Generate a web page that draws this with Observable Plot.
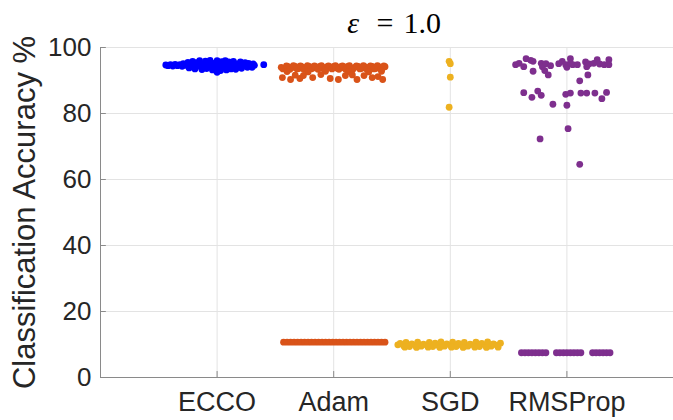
<!DOCTYPE html>
<html>
<head>
<meta charset="utf-8">
<script src="https://cdn.jsdelivr.net/npm/d3@7"></script>
<script src="https://cdn.jsdelivr.net/npm/@observablehq/plot@0.6"></script>
<style>
  html, body { margin: 0; padding: 0; background: #ffffff; }
</style>
</head>
<body>
<div id="chart"></div>
<script>
// ---- data ----
const categories = ["ECCO", "Adam", "SGD", "RMSProp"];
const seriesColors = ["#0000ff", "#d95319", "#edb120", "#7e2f8e"];
const yTicks = [0, 20, 40, 60, 80, 100];
const titleSymbol = "ε";
const titleValue = "=\u20041.0";
const yLabel = "Classification Accuracy %";

// [horizontal swarm offset (category units), accuracy %]
const eccoPoints = [
  [-0.44,94.7],[-0.42,94.5],[-0.40,94.8],[-0.38,94.4],[-0.36,94.9],[-0.34,94.5],[-0.32,94.8],[-0.30,94.3],[-0.29,95.1],[-0.27,94.6],
  [-0.25,95.5],[-0.24,93.8],[-0.22,94.8],[-0.21,95.8],[-0.19,93.5],[-0.18,95.4],[-0.16,94.4],[-0.15,96.0],[-0.13,93.3],[-0.12,94.9],
  [-0.10,95.9],[-0.09,93.6],[-0.07,94.6],[-0.06,96.1],[-0.04,93.2],[-0.03,95.2],[-0.02,94.3],[0.00,92.5],[0.00,96.0],[0.01,93.3],
  [0.02,94.8],[0.03,93.0],[0.04,95.7],[0.05,94.1],[0.07,96.0],[0.08,93.2],[0.09,94.7],[0.10,95.6],[0.12,93.5],[0.13,94.4],
  [0.14,95.8],[0.16,93.4],[0.17,95.0],[0.18,94.2],[0.20,95.6],[0.21,93.7],[0.23,94.8],[0.24,95.4],[0.26,94.0],[0.27,95.2],
  [0.29,94.5],[0.30,94.0],[0.31,95.0],[0.32,94.6],[0.40,94.8],
  [-0.20,94.6],[-0.14,94.9],[-0.08,94.2],[-0.01,94.9],[0.06,94.9],[0.11,94.4],[0.19,94.9]
];
const adamPoints = [
  [-0.45,94.0],[-0.42,93.7],[-0.39,94.2],[-0.36,93.9],[-0.33,94.3],[-0.30,93.6],[-0.27,94.1],[-0.24,93.8],[-0.21,94.3],[-0.18,93.7],
  [-0.15,94.0],[-0.12,94.3],[-0.09,93.6],[-0.06,94.1],[-0.03,93.9],[0.00,94.3],[0.03,93.7],[0.06,94.2],[0.09,93.8],[0.12,94.3],
  [0.15,93.6],[0.18,94.0],[0.21,94.3],[0.24,93.7],[0.27,94.1],[0.30,93.9],[0.33,94.3],[0.36,93.6],[0.39,94.1],[0.42,93.8],[0.44,94.2],
  [-0.435,93.5],[-0.405,94.4],[-0.375,93.4],[-0.345,94.5],[-0.315,93.5],[-0.285,94.4],[-0.255,93.3],[-0.225,94.5],[-0.195,93.5],
  [-0.165,94.4],[-0.135,93.4],[-0.105,94.5],[-0.075,93.3],[-0.045,94.4],[-0.015,93.5],[0.015,94.5],[0.045,93.4],[0.075,94.4],
  [0.105,93.3],[0.135,94.5],[0.165,93.4],[0.195,94.4],[0.225,93.5],[0.255,94.5],[0.285,93.3],[0.315,94.4],[0.345,93.5],[0.375,94.5],
  [0.405,93.4],[0.43,94.4],
  [-0.40,92.7],[-0.22,92.6],[-0.07,92.8],[0.13,92.7],[0.30,92.6],[0.41,92.8],
  [-0.44,90.9],[-0.37,90.3],[-0.29,90.6],[-0.26,91.5],[-0.18,90.9],[-0.11,91.8],[-0.03,90.6],[0.04,90.3],[0.10,91.5],[0.20,90.3],
  [0.26,91.5],[0.33,90.9],[0.38,91.2],[0.42,90.3],[-0.33,91.6],[0.16,91.7],
  [-0.43,10.7],[-0.40,10.7],[-0.37,10.7],[-0.34,10.7],[-0.31,10.7],[-0.28,10.7],[-0.25,10.7],[-0.22,10.7],[-0.19,10.7],[-0.16,10.7],
  [-0.13,10.7],[-0.10,10.7],[-0.07,10.7],[-0.04,10.7],[-0.01,10.7],[0.02,10.7],[0.05,10.7],[0.08,10.7],[0.11,10.7],[0.14,10.7],
  [0.17,10.7],[0.20,10.7],[0.23,10.7],[0.26,10.7],[0.29,10.7],[0.32,10.7],[0.35,10.7],[0.38,10.7],[0.41,10.7],[0.44,10.7]
];
const sgdPoints = [
  [-0.01,95.8],[0.00,95.1],[0.00,91.0],[-0.01,81.9],
  [-0.45,9.9],[-0.43,10.3],[-0.40,9.6],[-0.38,10.6],[-0.35,9.4],[-0.33,10.2],[-0.30,9.7],[-0.28,10.7],[-0.25,9.5],[-0.23,10.1],
  [-0.20,9.8],[-0.18,10.6],[-0.15,9.4],[-0.13,10.4],[-0.10,9.7],[-0.08,10.8],[-0.05,9.5],[-0.03,10.2],[0.00,9.8],[0.02,10.7],
  [0.05,9.4],[0.07,10.3],[0.10,9.7],[0.12,10.6],[0.15,9.5],[0.17,10.1],[0.20,9.9],[0.22,10.7],[0.25,9.4],[0.27,10.3],
  [0.30,9.7],[0.32,10.8],[0.35,9.5],[0.37,10.2],[0.40,9.8],[0.43,10.4],
  [-0.39,9.2],[-0.29,9.1],[-0.19,9.2],[-0.09,9.1],[0.01,9.2],[0.11,9.1],[0.21,9.2],[0.31,9.1],[0.41,9.2]
];
const rmspropPoints = [
  [-0.44,94.8],[-0.41,95.2],[-0.37,94.2],[-0.35,96.6],[-0.31,96.1],[-0.29,95.8],[-0.29,92.8],[-0.22,95.2],[-0.21,94.2],[-0.19,93.0],
  [-0.18,95.1],[-0.16,91.7],[-0.14,94.5],[-0.07,95.1],[-0.04,95.8],[-0.01,94.8],[0.00,94.0],[0.03,96.6],[0.03,95.2],[0.05,94.8],
  [0.09,94.8],[0.11,89.9],[0.16,95.6],[0.17,94.2],[0.18,91.7],[0.19,95.0],[0.23,95.2],[0.26,96.3],[0.28,95.0],[0.32,94.8],
  [0.36,96.3],[0.36,94.8],
  [-0.37,86.3],[-0.30,84.9],[-0.25,86.8],[-0.22,85.5],[-0.12,82.8],[-0.01,85.8],[0.00,82.5],[0.03,86.2],[0.12,86.2],[0.17,86.2],
  [0.24,86.2],[0.30,84.5],[0.34,86.4],
  [0.01,75.4],[-0.23,72.3],[0.11,64.6],
  [-0.39,7.5],[-0.36,7.5],[-0.33,7.5],[-0.30,7.5],[-0.27,7.5],[-0.24,7.5],[-0.21,7.5],[-0.18,7.5],
  [-0.09,7.5],[-0.06,7.5],[-0.03,7.5],[0.00,7.5],[0.03,7.5],[0.06,7.5],[0.09,7.5],[0.12,7.5],
  [0.22,7.5],[0.25,7.5],[0.28,7.5],[0.31,7.5],[0.34,7.5],[0.37,7.5]
];

// ---- build table ----
const groups = [eccoPoints, adamPoints, sgdPoints, rmspropPoints];
const rows = [];
groups.forEach((pts, i) => {
  pts.forEach(([j, acc]) => rows.push({opt: categories[i], pos: i + 1 + j, acc}));
});
const catPos = categories.map((_, i) => i + 1);

const chart = Plot.plot({
  width: 673,
  height: 420,
  marginLeft: 100,
  marginRight: 0,
  marginTop: 47,
  marginBottom: 43,
  style: {fontFamily: "'Liberation Sans', Arial, Helvetica, sans-serif", background: "#ffffff", color: "#262626"},
  x: {domain: [0, 5], range: [100, 683]},
  y: {domain: [0, 100]},
  color: {domain: categories, range: seriesColors},
  marks: [
    Plot.gridY(yTicks, {stroke: "#e3e3e3", strokeOpacity: 1}),
    Plot.gridX(catPos, {stroke: "#e3e3e3", strokeOpacity: 1}),
    Plot.ruleX([0], {stroke: "#8a8a8a"}),
    Plot.ruleY([0], {stroke: "#8a8a8a"}),
    Plot.ruleY(yTicks, {x1: 0, x2: 0.05, stroke: "#8a8a8a"}),
    Plot.ruleX(catPos, {y1: 0, y2: 1.8, stroke: "#8a8a8a"}),
    Plot.axisY(yTicks, {tickSize: 0, tickPadding: 9, fontSize: 26, label: null, fill: "#262626"}),
    Plot.axisX(catPos, {tickSize: 0, tickPadding: 14, fontSize: 27, label: null, fill: "#262626",
      tickFormat: d => categories[d - 1]}),
    Plot.dot(rows, {x: "pos", y: "acc", fill: "opt", r: 3.4, stroke: null}),
    Plot.text([titleSymbol], {frameAnchor: "top", textAnchor: "end", lineAnchor: "bottom", dx: -28, dy: -15,
      fontSize: 30, fontStyle: "italic", fontFamily: "'Liberation Serif', 'DejaVu Serif', serif", fill: "#000"}),
    Plot.text([titleValue], {frameAnchor: "top", textAnchor: "start", lineAnchor: "bottom", dx: -10.5, dy: -15,
      fontSize: 30, fontFamily: "'Liberation Serif', 'DejaVu Serif', serif", fill: "#000"}),
    Plot.text([yLabel], {frameAnchor: "left", textAnchor: "middle", lineAnchor: "middle", rotate: -90, dx: -75,
      fontSize: 31, fill: "#262626"})
  ]
});
document.getElementById("chart").appendChild(chart);
</script>
</body>
</html>
